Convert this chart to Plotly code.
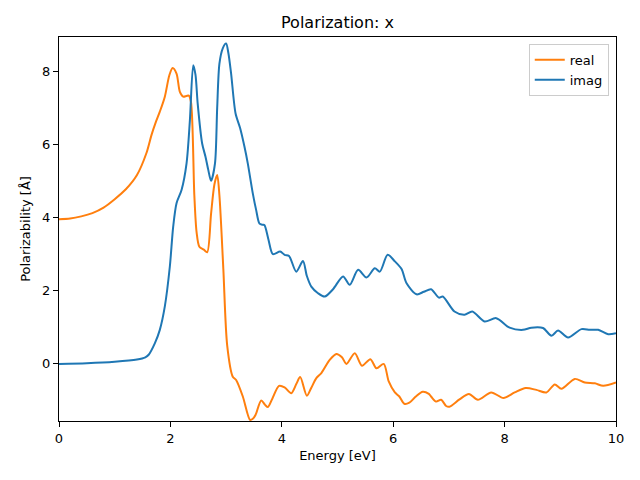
import plotly.graph_objects as go

# Real part (orange)
real_e = [0.0, 0.2, 0.4, 0.6, 0.8, 1.0, 1.2, 1.4, 1.57, 1.66, 1.73, 1.81, 1.90, 1.98, 2.04, 2.11, 2.17,
          2.23, 2.29, 2.33, 2.37, 2.43, 2.47, 2.52, 2.60, 2.66, 2.73, 2.79, 2.84, 2.88, 2.95,
          3.02, 3.12, 3.18, 3.30, 3.43, 3.48, 3.53, 3.63, 3.70, 3.75, 3.83, 3.95, 4.05, 4.17,
          4.26, 4.33, 4.45, 4.53, 4.62, 4.71, 4.86, 4.98, 5.08, 5.16, 5.31, 5.44, 5.59, 5.70,
          5.83, 5.92, 6.03, 6.11, 6.20, 6.29, 6.40, 6.53, 6.64, 6.68, 6.77, 6.86, 6.95, 7.01,
          7.19, 7.36, 7.52, 7.76, 7.98, 8.18, 8.38, 8.57, 8.75, 8.90, 9.02, 9.26, 9.44, 9.62,
          9.77, 10.0]
real_v = [3.95, 3.97, 4.03, 4.12, 4.27, 4.50, 4.77, 5.16, 5.76, 6.25, 6.57, 6.89, 7.30, 7.88, 8.08, 7.93, 7.43,
          7.30, 7.32, 7.33, 7.15, 4.6, 3.6, 3.2, 3.12, 3.05, 4.1, 4.9, 5.16, 4.6, 2.6,
          0.5, -0.35, -0.44, -0.89, -1.53, -1.50, -1.39, -1.0, -1.12, -1.18, -0.95, -0.60, -0.64, -0.80,
          -0.55, -0.36, -0.87, -0.65, -0.39, -0.25, 0.11, 0.27, 0.18, 0.0, 0.29, -0.05, 0.13, -0.12,
          0.0, -0.48, -0.78, -0.89, -1.09, -1.06, -0.90, -0.76, -0.82, -0.89, -1.03, -0.98, -1.15, -1.17,
          -0.97, -0.82, -0.98, -0.78, -0.93, -0.78, -0.66, -0.71, -0.78, -0.56, -0.68, -0.41, -0.51, -0.53,
          -0.60, -0.51]

# Imaginary part (blue)
imag_e = [0.0, 0.5, 1.0, 1.4, 1.55, 1.61, 1.72, 1.81, 1.90, 1.99, 2.05, 2.11, 2.20, 2.29,
          2.35, 2.41, 2.45, 2.49, 2.57, 2.63, 2.68, 2.73, 2.80, 2.84, 2.88, 2.94, 3.0, 3.04,
          3.09, 3.17, 3.25, 3.33, 3.39, 3.48, 3.54, 3.60, 3.66, 3.69, 3.76, 3.84, 3.97, 4.05,
          4.13, 4.26, 4.38, 4.45, 4.53, 4.65, 4.77, 4.92, 5.10, 5.22, 5.37, 5.52, 5.67, 5.76,
          5.90, 6.03, 6.15, 6.24, 6.42, 6.55, 6.68, 6.82, 6.89, 7.10, 7.28, 7.42, 7.64, 7.85,
          8.09, 8.33, 8.48, 8.69, 8.84, 8.96, 9.14, 9.38, 9.53, 9.68, 9.86, 10.0]
imag_v = [0.0, 0.02, 0.06, 0.12, 0.18, 0.25, 0.56, 0.93, 1.57, 2.66, 3.75, 4.39, 4.75, 5.48,
          6.66, 8.16, 7.9, 7.11, 6.02, 5.66, 5.3, 5.0, 5.47, 7.0, 8.2, 8.62, 8.75, 8.5,
          7.93, 6.84, 6.45, 5.93, 5.47, 4.65, 4.2, 3.83, 3.80, 3.79, 3.4, 3.0, 3.07, 2.98,
          2.95, 2.52, 2.81, 2.4, 2.11, 1.93, 1.84, 2.04, 2.39, 2.16, 2.57, 2.36, 2.61, 2.52,
          2.98, 2.80, 2.59, 2.20, 1.90, 1.97, 2.04, 1.81, 1.84, 1.43, 1.34, 1.43, 1.16, 1.25,
          0.99, 0.93, 0.99, 0.98, 0.77, 0.91, 0.72, 0.95, 0.93, 0.93, 0.81, 0.84]

x_ticks = [0, 2, 4, 6, 8, 10]
y_ticks = [0, 2, 4, 6, 8]

fig = go.Figure()
fig.add_trace(go.Scatter(x=real_e, y=real_v, name="real", mode="lines",
                         line=dict(color="#ff7f0e", width=2, shape="spline", smoothing=0.8)))
fig.add_trace(go.Scatter(x=imag_e, y=imag_v, name="imag", mode="lines",
                         line=dict(color="#1f77b4", width=2, shape="spline", smoothing=0.8)))

axis_common = dict(showgrid=False, zeroline=False, showline=True, linecolor="black",
                   linewidth=1, mirror=True, ticks="outside", ticklen=5, tickwidth=1,
                   tickcolor="black", tickfont=dict(size=13, color="black"), automargin=False)
fig.update_xaxes(range=[0, 10], tickvals=x_ticks, title=dict(text="Energy [eV]", font=dict(size=13), standoff=6),
                 **axis_common)
fig.update_yaxes(range=[-1.56, 8.93], tickvals=y_ticks, title=dict(text="Polarizability [Å]", font=dict(size=13), standoff=8),
                 **axis_common)

# page body has an 8px margin, so the figure is 632x472 and offsets are compensated
fig.update_layout(
    width=632, height=472,
    margin=dict(l=51, r=24, t=29, b=59, autoexpand=False),
    paper_bgcolor="white", plot_bgcolor="white",
    font=dict(family="DejaVu Sans", color="black"),
    title=dict(text="Polarization: x", x=(51 + 557 / 2) / 632, xanchor="center", y=1 - 14 / 472, yanchor="middle",
               font=dict(size=16)),
    legend=dict(x=0.987, y=0.982, xanchor="right", yanchor="top", bgcolor="white",
                bordercolor="#cccccc", borderwidth=1, font=dict(size=13)),
    showlegend=True,
)

fig.write_html("out.html")
